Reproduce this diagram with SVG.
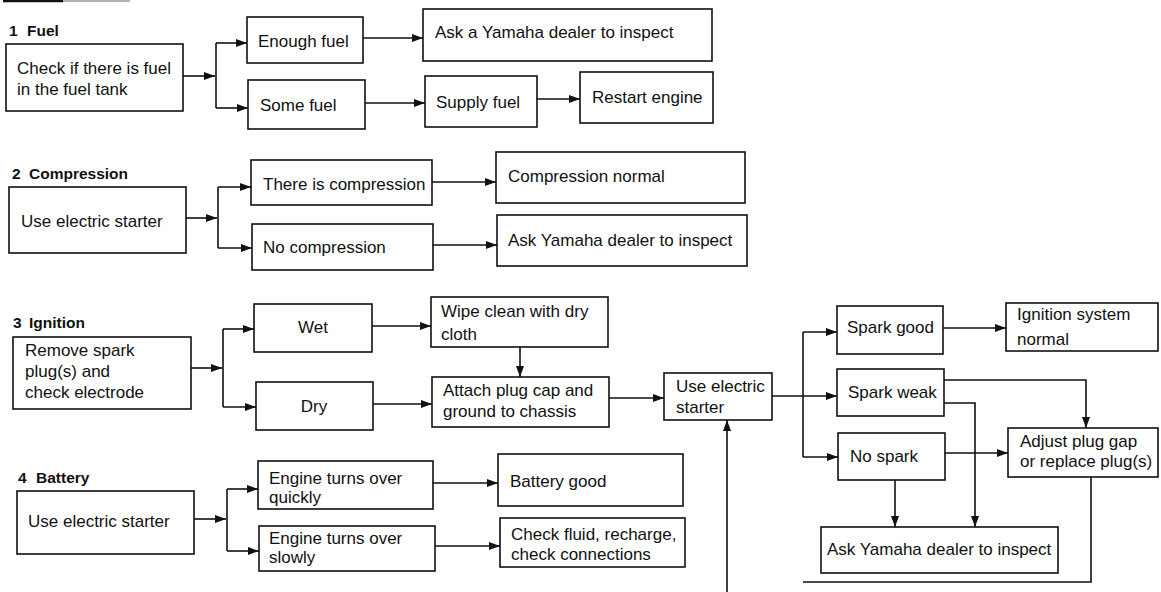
<svg xmlns="http://www.w3.org/2000/svg" width="1161" height="592" viewBox="0 0 1161 592">
<style>
.box{fill:#fff;stroke:#111;stroke-width:1.6}
.t{font-family:"Liberation Sans",Arial,sans-serif;font-size:17px;fill:#111}
.c{text-anchor:middle}
.h{font-family:"Liberation Sans",Arial,sans-serif;font-size:15.5px;font-weight:bold;fill:#111}
.ln{fill:none;stroke:#111;stroke-width:1.6}
.ar{fill:none;stroke:#111;stroke-width:1.6;marker-end:url(#ah)}
</style>
<defs>
<marker id="ah" markerUnits="userSpaceOnUse" markerWidth="12" markerHeight="9" refX="11" refY="4" orient="auto">
<path d="M0,0 L11,4 L0,8 z" fill="#111"/>
</marker>
</defs>
<rect width="1161" height="592" fill="#fff"/>
<g id="scan-edge">
<line x1="3" y1="1" x2="63" y2="1" stroke="#111" stroke-width="2.5"/>
<line x1="63" y1="1" x2="130" y2="1" stroke="#999" stroke-width="1.5"/>
</g>

<g id="connectors">
<!-- Fuel -->
<path class="ar" d="M183,76 H215"/>
<path class="ln" d="M216,43 V108"/>
<path class="ar" d="M216,43 H247"/>
<path class="ar" d="M216,108 H248"/>
<path class="ar" d="M363,38 H423"/>
<path class="ar" d="M365,103 H425"/>
<path class="ar" d="M537,99 H580"/>
<!-- Compression -->
<path class="ar" d="M186,218 H217"/>
<path class="ln" d="M218,187 V248"/>
<path class="ar" d="M218,187 H251"/>
<path class="ar" d="M218,248 H252"/>
<path class="ar" d="M432,182 H496"/>
<path class="ar" d="M433,245 H497"/>
<!-- Ignition -->
<path class="ar" d="M191,368 H222"/>
<path class="ln" d="M223,329 V407"/>
<path class="ar" d="M223,329 H254"/>
<path class="ar" d="M223,407 H256"/>
<path class="ar" d="M372,326 H431"/>
<path class="ar" d="M520,347 V377"/>
<path class="ar" d="M373,404 H432"/>
<path class="ar" d="M609,398 H664"/>
<path class="ar" d="M772,396 H837"/>
<path class="ln" d="M803,332 V457"/>
<path class="ar" d="M803,332 H837"/>
<path class="ar" d="M803,457 H838"/>
<path class="ar" d="M943,328 H1006"/>
<path class="ar" d="M944,380 H1086 V428"/>
<path class="ar" d="M944,403 H975 V527"/>
<path class="ar" d="M945,453 H1008"/>
<path class="ar" d="M895,480 V527"/>
<path class="ln" d="M1091,477 V582 H803"/>
<path class="ar" d="M727,592 V420"/>
<!-- Battery -->
<path class="ar" d="M194,519 H226"/>
<path class="ln" d="M227,489 V551"/>
<path class="ar" d="M227,489 H258"/>
<path class="ar" d="M227,551 H259"/>
<path class="ar" d="M433,483 H498"/>
<path class="ar" d="M435,546 H500"/>
</g>

<!-- Section 1 -->
<g id="h1"><text class="h" x="9" y="36">1</text><text class="h" x="27" y="36">Fuel</text></g>
<g id="n1a"><rect class="box" x="6" y="44" width="177" height="67"/><text class="t" x="17" y="74">Check if there is fuel</text><text class="t" x="17" y="95">in the fuel tank</text></g>
<g id="n1b"><rect class="box" x="247" y="17" width="116" height="46"/><text class="t" x="258" y="47">Enough fuel</text></g>
<g id="n1c"><rect class="box" x="248" y="80" width="117" height="49"/><text class="t" x="260" y="111">Some fuel</text></g>
<g id="n1d"><rect class="box" x="423" y="9" width="289" height="52"/><text class="t" x="435" y="38">Ask a Yamaha dealer to inspect</text></g>
<g id="n1e"><rect class="box" x="425" y="76" width="112" height="51"/><text class="t" x="436" y="108">Supply fuel</text></g>
<g id="n1f"><rect class="box" x="580" y="72" width="133" height="51"/><text class="t" x="592" y="103">Restart engine</text></g>

<!-- Section 2 -->
<g id="h2"><text class="h" x="12" y="179">2</text><text class="h" x="29" y="179">Compression</text></g>
<g id="n2a"><rect class="box" x="9" y="187" width="177" height="66"/><text class="t" x="21" y="227">Use electric starter</text></g>
<g id="n2b"><rect class="box" x="251" y="160" width="181" height="45"/><text class="t" x="263" y="190">There is compression</text></g>
<g id="n2c"><rect class="box" x="252" y="224" width="181" height="46"/><text class="t" x="263" y="253">No compression</text></g>
<g id="n2d"><rect class="box" x="496" y="152" width="249" height="51"/><text class="t" x="508" y="182">Compression normal</text></g>
<g id="n2e"><rect class="box" x="497" y="215" width="250" height="51"/><text class="t" x="508" y="246">Ask Yamaha dealer to inspect</text></g>

<!-- Section 3 -->
<g id="h3"><text class="h" x="13" y="328">3</text><text class="h" x="29" y="328">Ignition</text></g>
<g id="n3a"><rect class="box" x="13" y="337" width="178" height="72"/><text class="t" x="25" y="356">Remove spark</text><text class="t" x="25" y="377">plug(s) and</text><text class="t" x="25" y="398">check electrode</text></g>
<g id="n3b"><rect class="box" x="254" y="304" width="118" height="48"/><text class="t c" x="313" y="333">Wet</text></g>
<g id="n3c"><rect class="box" x="256" y="382" width="117" height="48"/><text class="t c" x="314" y="412">Dry</text></g>
<g id="n3d"><rect class="box" x="431" y="297" width="177" height="50"/><text class="t" x="441" y="317">Wipe clean with dry</text><text class="t" x="441" y="340">cloth</text></g>
<g id="n3e"><rect class="box" x="432" y="377" width="177" height="50"/><text class="t" x="443" y="396">Attach plug cap and</text><text class="t" x="443" y="417">ground to chassis</text></g>
<g id="n3f"><rect class="box" x="664" y="373" width="108" height="47"/><text class="t" x="676" y="392">Use electric</text><text class="t" x="676" y="413">starter</text></g>
<g id="n3g"><rect class="box" x="837" y="306" width="106" height="48"/><text class="t" x="847" y="333">Spark good</text></g>
<g id="n3h"><rect class="box" x="1006" y="303" width="152" height="48"/><text class="t" x="1017" y="320">Ignition system</text><text class="t" x="1017" y="345">normal</text></g>
<g id="n3i"><rect class="box" x="837" y="369" width="107" height="47"/><text class="t" x="848" y="398">Spark weak</text></g>
<g id="n3j"><rect class="box" x="838" y="433" width="107" height="47"/><text class="t" x="850" y="462">No spark</text></g>
<g id="n3k"><rect class="box" x="1008" y="428" width="150" height="49"/><text class="t" x="1020" y="447">Adjust plug gap</text><text class="t" x="1020" y="467">or replace plug(s)</text></g>
<g id="n3l"><rect class="box" x="821" y="527" width="237" height="46"/><text class="t" x="827" y="555">Ask Yamaha dealer to inspect</text></g>

<!-- Section 4 -->
<g id="h4"><text class="h" x="18" y="483">4</text><text class="h" x="36" y="483">Battery</text></g>
<g id="n4a"><rect class="box" x="17" y="491" width="177" height="63"/><text class="t" x="28" y="527">Use electric starter</text></g>
<g id="n4b"><rect class="box" x="258" y="461" width="175" height="48"/><text class="t" x="269" y="484">Engine turns over</text><text class="t" x="269" y="503">quickly</text></g>
<g id="n4c"><rect class="box" x="259" y="526" width="176" height="45"/><text class="t" x="269" y="544">Engine turns over</text><text class="t" x="269" y="563">slowly</text></g>
<g id="n4d"><rect class="box" x="498" y="454" width="185" height="52"/><text class="t" x="510" y="487">Battery good</text></g>
<g id="n4e"><rect class="box" x="500" y="518" width="185" height="49"/><text class="t" x="511" y="540">Check fluid, recharge,</text><text class="t" x="511" y="560">check connections</text></g>
</svg>
